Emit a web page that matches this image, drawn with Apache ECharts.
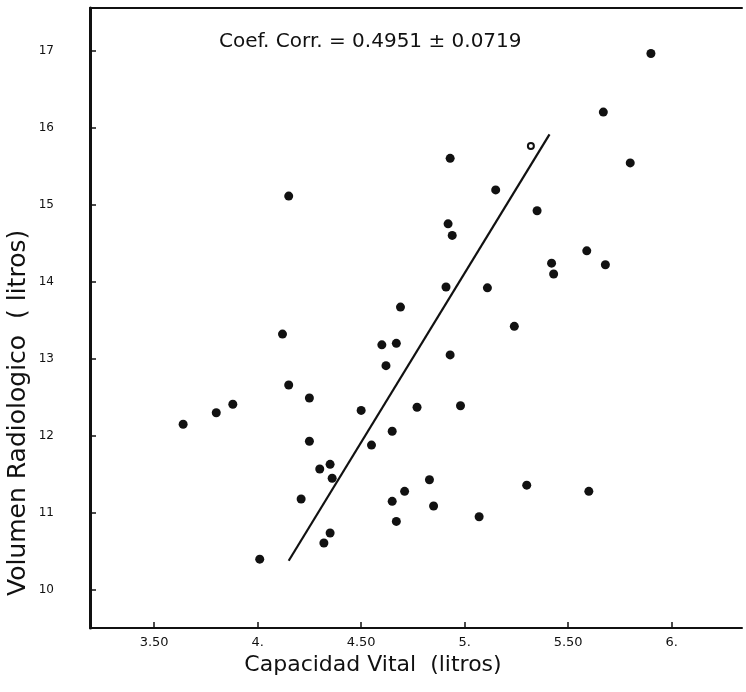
<!DOCTYPE html>
<html>
<head>
<meta charset="utf-8">
<script src="https://cdn.jsdelivr.net/npm/echarts@6/dist/echarts.min.js"></script>
<style>
  html, body { margin: 0; padding: 0; background: #fff; }
  #chart { width: 746px; height: 692px; }
</style>
</head>
<body>
<div id="chart"></div>
<script>
// Capacidad vital vs volumen radiologico (litros) - scatter + recta de regresion

// puntos rellenos
const capacidad = [3.64, 3.80, 3.88, 4.01, 4.12, 4.15, 4.15, 4.21, 4.25, 4.25,
  4.30, 4.35, 4.36, 4.32, 4.35, 4.50, 4.55, 4.60, 4.67, 4.62,
  4.65, 4.65, 4.67, 4.71, 4.69, 4.77, 4.83, 4.85, 4.91, 4.92,
  4.94, 4.93, 4.93, 4.98, 5.07, 5.11, 5.15, 5.24, 5.30, 5.35,
  5.42, 5.43, 5.59, 5.68, 5.60, 5.67, 5.80, 5.90];
const volumen = [12.15, 12.30, 12.41, 10.40, 13.32, 12.66, 15.11, 11.18, 12.49, 11.93,
  11.57, 11.63, 11.45, 10.61, 10.74, 12.33, 11.88, 13.18, 13.20, 12.91,
  12.06, 11.15, 10.89, 11.28, 13.67, 12.37, 11.43, 11.09, 13.93, 14.75,
  14.60, 15.60, 13.05, 12.39, 10.95, 13.92, 15.19, 13.42, 11.36, 14.92,
  14.24, 14.10, 14.40, 14.22, 11.28, 16.20, 15.54, 16.96];

// punto hueco
const abiertoX = [5.32];
const abiertoY = [15.76];

// recta de regresion (extremos dibujados)
const rectaX = [4.15, 5.41];
const rectaY = [10.38, 15.91];

const xTicks = [3.5, 4, 4.5, 5, 5.5, 6];
const xLabels = { 3.5: '3.50', 4: '4.', 4.5: '4.50', 5: '5.', 5.5: '5.50', 6: '6.' };
const yTicks = [10, 11, 12, 13, 14, 15, 16, 17];

const titulo = 'Coef. Corr. = 0.4951 ± 0.0719';
const nombreX = 'Capacidad Vital  (litros)';
const nombreY = 'Volumen Radiologico  ( litros)';

const FONT = 'DejaVu Sans';
const INK = '#111';

const chart = echarts.init(document.getElementById('chart'), null, { renderer: 'canvas' });

chart.setOption({
  backgroundColor: '#fff',
  animation: false,
  title: {
    text: titulo,
    left: 214, top: 27,
    textStyle: { fontFamily: FONT, fontSize: 20, fontWeight: 'normal', color: INK },
  },
  grid: { left: 90, top: 8, right: 4, bottom: 64, containLabel: false },
  xAxis: [
    {
      type: 'value',
      min: 3.19, max: 6.34,
      axisLine: { show: true, onZero: false, lineStyle: { color: INK, width: 2 } },
      axisTick: { show: true, inside: true, length: 6, customValues: xTicks, lineStyle: { color: INK, width: 1.5 } },
      axisLabel: {
        customValues: xTicks,
        formatter: v => xLabels[v] || '',
        color: INK, fontFamily: FONT, fontSize: 13, margin: 8,
      },
      splitLine: { show: false },
    },
    {
      // borde superior
      type: 'value', position: 'top',
      min: 3.19, max: 6.34,
      axisLine: { show: true, onZero: false, lineStyle: { color: INK, width: 2 } },
      axisTick: { show: false },
      axisLabel: { show: false },
      splitLine: { show: false },
    },
  ],
  yAxis: {
    type: 'value',
    min: 9.507, max: 17.55,
    axisLine: { show: true, onZero: false, lineStyle: { color: INK, width: 3 } },
    axisTick: { show: true, inside: true, length: 6, customValues: yTicks, lineStyle: { color: INK, width: 1.5 } },
    axisLabel: {
      customValues: yTicks,
      color: INK, fontFamily: FONT, fontSize: 12, margin: 36,
    },
    splitLine: { show: false },
  },
  graphic: [
    {
      type: 'text',
      left: 'center', top: 654,
      style: { text: nombreX, fontFamily: FONT, fontSize: 22, fill: INK },
      x: -40,
    },
    {
      type: 'text',
      x: 6, y: 596,
      rotation: Math.PI / 2,
      style: { text: nombreY, fontFamily: FONT, fontSize: 25, fill: INK },
    },
  ],
  series: [
    {
      type: 'line',
      data: rectaX.map((x, i) => [x, rectaY[i]]),
      symbol: 'none',
      lineStyle: { color: INK, width: 2.2 },
      z: 2,
    },
    {
      type: 'scatter',
      data: capacidad.map((x, i) => [x, volumen[i]]),
      symbol: 'circle',
      symbolSize: 9,
      itemStyle: { color: INK, opacity: 1 },
      z: 3,
    },
    {
      type: 'scatter',
      data: abiertoX.map((x, i) => [x, abiertoY[i]]),
      symbol: 'emptyCircle',
      symbolSize: 6,
      itemStyle: { color: INK, borderColor: INK, borderWidth: 1.5, opacity: 1 },
      z: 3,
    },
  ],
});
</script>
</body>
</html>
